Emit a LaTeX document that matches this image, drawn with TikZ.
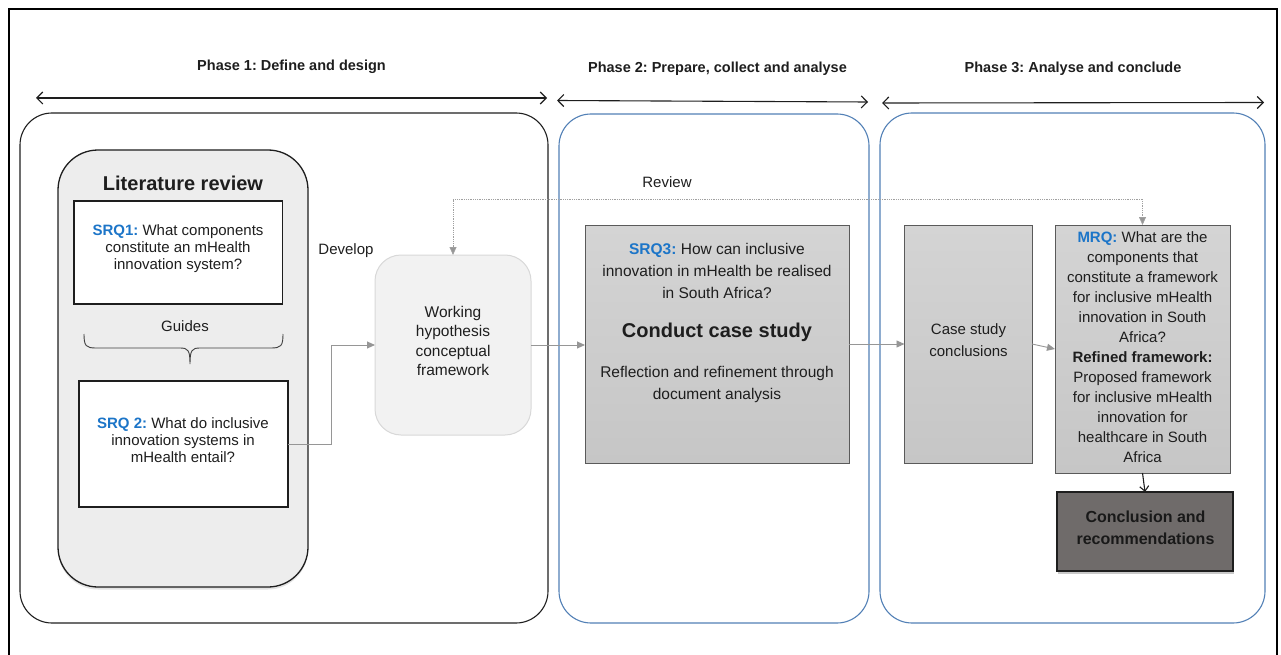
\documentclass[tikz,border=0pt]{standalone}
\usepackage{fontspec}
\setmainfont{Liberation Sans}
\usetikzlibrary{arrows.meta,shadows,calc}

\definecolor{qblue}{RGB}{28,117,200}
\definecolor{phaseblue}{RGB}{82,128,182}
\definecolor{ink}{RGB}{30,30,30}
\definecolor{litfill}{RGB}{237,237,237}
\definecolor{whfill}{RGB}{242,242,242}
\definecolor{whline}{RGB}{216,216,216}
\definecolor{boxtop}{RGB}{212,212,212}
\definecolor{boxbot}{RGB}{198,198,198}
\definecolor{boxline}{RGB}{90,90,90}
\definecolor{darkbox}{RGB}{111,107,106}
\definecolor{linkgray}{RGB}{150,150,150}

\newcommand{\q}[1]{\textcolor{qblue}{\bfseries #1}}
\frenchspacing

\begin{document}
\begin{tikzpicture}[x=1pt,y=-1pt,
  every node/.style={font=\fontsize{15}{17}\selectfont, text=ink, inner sep=0pt, outer sep=0pt},
  phasebox/.style={draw, rounded corners=32pt, line width=1.1pt},
  litbox/.style={draw=ink, fill=litfill, rounded corners=40pt, line width=1.3pt,
    drop shadow={shadow xshift=0pt, shadow yshift=-2.5pt, opacity=0.18, fill=black!60}},
  qbox/.style={draw=ink, fill=white, line width=1.3pt},
  whbox/.style={draw=whline, fill=whfill, rounded corners=26pt, line width=1pt},
  graybox/.style={draw=boxline, top color=boxtop, bottom color=boxbot, line width=1pt},
  endbox/.style={draw=ink, fill=darkbox, line width=1.5pt,
    drop shadow={shadow xshift=1pt, shadow yshift=-3pt, opacity=0.3, fill=black!70}},
  phasearrow/.style={draw=ink, line width=1.1pt,
    {Straight Barb[length=6pt,width=12pt]}-{Straight Barb[length=6pt,width=12pt]}},
  flow/.style={draw=linkgray, line width=0.9pt, -{Triangle[length=8pt,width=7pt]}},
  review/.style={draw=linkgray!90, line width=0.8pt, densely dotted,
    {Triangle[length=8pt,width=7pt,fill=linkgray]}-{Triangle[length=8pt,width=7pt,fill=linkgray]}},
  lbl/.style={anchor=base},
  phaselbl/.style={anchor=base, font=\bfseries\fontsize{14.5}{17}\selectfont}
]
\useasboundingbox (0,0) rectangle (1281,655);

% page frame
\draw[line width=2pt, black] (9,670) -- (9,9) -- (1277,9) -- (1277,670);

% phase headings and spans
\node[phaselbl] (h1) at (291.5,71) {Phase 1: Define and design};
\node[phaselbl] (h2) at (717.5,73) {Phase 2: Prepare, collect and analyse};
\node[phaselbl] (h3) at (1073,73) {Phase 3: Analyse and conclude};

\coordinate (s1a) at (36,98);   \coordinate (s1b) at (547,98);
\coordinate (s2a) at (557,100.5); \coordinate (s2b) at (868,102);
\coordinate (s3a) at (882,103); \coordinate (s3b) at (1264,102.5);
\draw[phasearrow] (s1a) -- (s1b);
\draw[phasearrow] (s2a) -- (s2b);
\draw[phasearrow] (s3a) -- (s3b);

% phase containers
\node[phasebox, draw=ink, minimum width=528pt, minimum height=510pt] (ph1) at (284,368) {};
\node[phasebox, draw=phaseblue, minimum width=310pt, minimum height=509pt] (ph2) at (714,368.5) {};
\node[phasebox, draw=phaseblue, minimum width=385pt, minimum height=510pt] (ph3) at (1072.5,368) {};

% literature review
\node[litbox, minimum width=250pt, minimum height=437pt] (lit) at (183,368.5) {};
\node[lbl, font=\bfseries\fontsize{20}{22}\selectfont] (littitle) at (183,190) {Literature review};

\node[qbox, minimum width=208.5pt, minimum height=103pt] (srq1) at (178.25,252.5) {};
\node[align=center] (srq1t) at (178,249) {\q{SRQ1:} What components\\constitute an mHealth\\innovation system?};

\node[lbl] (guides) at (185,331) {Guides};
\draw[ink!85, line width=0.9pt]
  (84,334) .. controls (84,346) and (86,348) .. (96,348) -- (180,348)
  .. controls (188,348) and (190,350) .. (190,364)
  .. controls (190,350) and (192,348) .. (200,348) -- (271,348)
  .. controls (281,348) and (283,346) .. (283,334);

\node[qbox, minimum width=209pt, minimum height=126pt] (srq2) at (183.5,444) {};
\node[align=center] (srq2t) at (183,440.5) {\q{SRQ 2:} What do inclusive\\innovation systems in\\mHealth entail?};

% working hypothesis
\node[lbl] (develop) at (346,254) {Develop};
\node[whbox, minimum width=156pt, minimum height=180pt] (wh) at (453,345) {};
\node[align=center, font=\fontsize{15.5}{19.5}\selectfont] (wht) at (453,341) {Working\\hypothesis\\conceptual\\framework};

% phase 2 case study
\node[graybox, minimum width=264pt, minimum height=238pt] (srq3) at (717,344) {};
\node[align=center, font=\fontsize{15.5}{22}\selectfont] (srq3t) at (717,271) {\q{SRQ3:} How can inclusive\\innovation in mHealth be realised\\in South Africa?};
\node[lbl, font=\bfseries\fontsize{20}{22}\selectfont] (conduct) at (717,337) {Conduct case study};
\node[align=center, font=\fontsize{15.5}{22}\selectfont] (reflect) at (717,384) {Reflection and refinement through\\document analysis};

% phase 3
\node[graybox, minimum width=127.5pt, minimum height=238pt] (case) at (968.25,344) {};
\node[align=center, font=\fontsize{15}{21.5}\selectfont] (caset) at (968.5,340) {Case study\\conclusions};

\node[graybox, minimum width=175pt, minimum height=248pt] (mrq) at (1142.5,349) {};
\node[align=center, font=\fontsize{15}{20}\selectfont] (mrqt) at (1142.5,347)
  {\q{MRQ:} What are the\\components that\\constitute a framework\\for inclusive mHealth\\innovation in South\\Africa?\\\textbf{Refined framework:}\\Proposed framework\\for inclusive mHealth\\innovation for\\healthcare in South\\Africa};

\node[endbox, minimum width=176pt, minimum height=79pt] (concl) at (1145,531.5) {};
\node[align=center, font=\bfseries\fontsize{16}{22}\selectfont, text=black!90] (conclt) at (1145.5,528) {Conclusion and\\recommendations};

% connectors
\draw[flow] (srq2.east) -- ++(43,0) |- (wh.west);
\draw[flow] (wh.east) -- (wh.east -| srq3.west);
\draw[flow] (srq3.east) -- (case.west);
\draw[flow] (case.east) -- (mrq.west);
\draw[draw=ink, line width=1.1pt, -{Straight Barb[length=5pt,width=9pt]}] (mrq.south) -- (concl.north);
\draw[review] (wh.north) |- ($(mrq.north)+(0,-26)$) -- (mrq.north);
\node[lbl] (reviewt) at (667,187) {Review};
\end{tikzpicture}
\end{document}
